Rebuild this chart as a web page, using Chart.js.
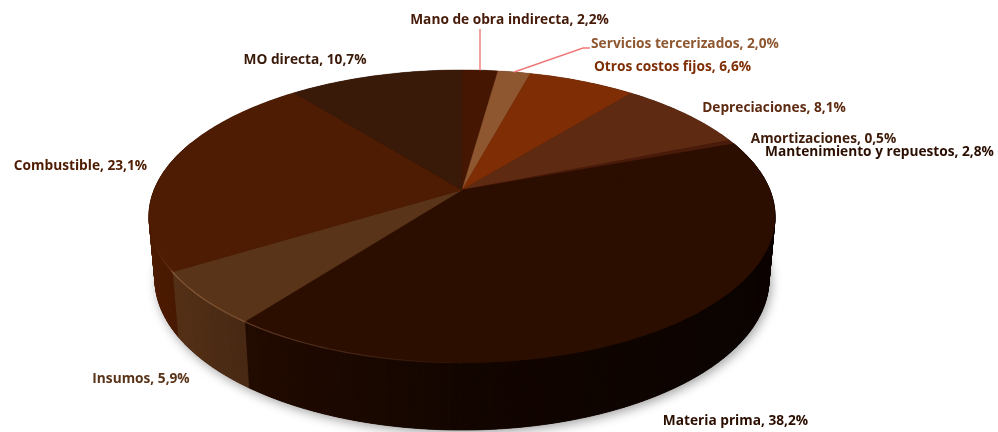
<!DOCTYPE html>
<html><head><meta charset="utf-8">
<style>html,body{margin:0;padding:0;background:#fff}canvas{display:block}</style>
<script src="https://cdn.jsdelivr.net/npm/chart.js@4"></script></head>
<body><canvas id="c" width="998" height="432"></canvas>
<script>
const categories = ["Mano de obra indirecta","Servicios tercerizados","Otros costos fijos","Depreciaciones","Amortizaciones","Mantenimiento y repuestos","Materia prima","Insumos","Combustible","MO directa"];
const shares = [2.2,2.0,6.6,8.1,0.5,2.8,38.2,5.9,23.1,10.7];
const tickText = ["2,2%","2,0%","6,6%","8,1%","0,5%","2,8%","38,2%","5,9%","23,1%","10,7%"];
const sliceColors = ["#451602","#8f5730","#7e2d05","#5e2a11","#4a1a0a","#2b0e00","#2b0e00","#5a3419","#4e1c02","#391a09"];
const labelColors = ["#451a08","#8f5730","#7e2d05","#5e2a11","#3f1c0a","#2a0e00","#2b0e00","#5a3419","#4e1c02","#391a09"];

const layoutCfg = {
  k:0.18,
  top:{ax:462,ay:190,A:307.9,B:141.7},
  bottom:{ax:462,ay:252,A:302,B:146},
  labelCenters:[[509.5,20],[685,44],[672.5,67],[774,108],[823.5,139],[879.5,152],[735.5,421],[141,379],[80.5,166],[305,60]],
  font:'bold 13.7px "Open Sans"',
  leader:{color:"#f07878",width:1.4},
  leaderEnds:{0:[[480,29]],1:[[583,48],[590,48]]}
};
function proj(p,a){
  const x=Math.cos(a),y=Math.sin(a),w=1-layoutCfg.k*y;
  return [p.ax+p.A*x/w,p.ay+p.B*y/w];
}
function scaleColor(hex,f){
  const n=parseInt(hex.slice(1),16);
  return `rgb(${((n>>16)&255)*f|0},${((n>>8)&255)*f|0},${(n&255)*f|0})`;
}
function sideShade(x){
  const s=[[150,1.0],[210,0.88],[250,0.8],[460,0.45],[700,0.3],[780,0.28]];
  for(let i=1;i<s.length;i++){ if(x<=s[i][0]){const t=Math.max(0,(x-s[i-1][0])/(s[i][0]-s[i-1][0]));return s[i-1][1]+t*(s[i][1]-s[i-1][1]);}}
  return 0.28;
}
const pie3d={
  id:'pie3d',
  beforeDatasetsDraw(chart){
    const ctx=chart.ctx, arcs=chart.getDatasetMeta(0).data, {top,bottom}=layoutCfg;
    ctx.save();
    // soft shadow under the disc
    ctx.save();
    ctx.shadowColor='rgba(0,0,0,0.38)';ctx.shadowBlur=11;ctx.shadowOffsetX=2;ctx.shadowOffsetY=3;
    ctx.fillStyle='#1a0700';ctx.beginPath();
    for(let i=0;i<=360;i++){const p=proj(bottom,i*Math.PI/180);i?ctx.lineTo(p[0],p[1]):ctx.moveTo(p[0],p[1]);}
    ctx.closePath();ctx.fill();ctx.restore();
    // side wall
    arcs.forEach((arc,idx)=>{
      const n=Math.max(2,Math.ceil((arc.endAngle-arc.startAngle)*180/Math.PI*2));
      for(let i=0;i<n;i++){
        const a0=arc.startAngle+(arc.endAngle-arc.startAngle)*i/n,a1=arc.startAngle+(arc.endAngle-arc.startAngle)*(i+1)/n;
        if(Math.sin((a0+a1)/2)<-0.35) continue;
        const t0=proj(top,a0),t1=proj(top,a1),b0=proj(bottom,a0),b1=proj(bottom,a1);
        const col=scaleColor(sliceColors[idx],sideShade((t0[0]+t1[0])/2));
        ctx.fillStyle=col;ctx.strokeStyle=col;ctx.lineWidth=0.7;
        ctx.beginPath();ctx.moveTo(t0[0],t0[1]);ctx.lineTo(t1[0],t1[1]);ctx.lineTo(b1[0],b1[1]);ctx.lineTo(b0[0],b0[1]);ctx.closePath();ctx.fill();ctx.stroke();
      }
    });
    // base of the top face, so slice seams do not show the wall through
    ctx.fillStyle='#2b0e00';ctx.beginPath();
    for(let i=0;i<=360;i++){const p=proj(top,i*Math.PI/180);i?ctx.lineTo(p[0],p[1]):ctx.moveTo(p[0],p[1]);}
    ctx.closePath();ctx.fill();
    // top face
    arcs.forEach((arc,idx)=>{
      ctx.fillStyle=sliceColors[idx];ctx.strokeStyle=sliceColors[idx];ctx.lineWidth=0.4;
      ctx.beginPath();ctx.moveTo(top.ax,top.ay);
      const n=Math.max(2,Math.ceil((arc.endAngle-arc.startAngle)*180/Math.PI*2));
      for(let i=0;i<=n;i++){const p=proj(top,arc.startAngle+(arc.endAngle-arc.startAngle)*i/n);ctx.lineTo(p[0],p[1]);}
      ctx.closePath();ctx.fill();ctx.stroke();
    });
    // bevel highlight along the front-left rim
    ctx.lineWidth=1.2;
    for(let d=90;d<=172;d+=1){
      const a0=d*Math.PI/180,a1=(d+1)*Math.PI/180,p0=proj(top,a0),p1=proj(top,a1);
      const fade=p0[0]<173?Math.max(0,(p0[0]-150)/23)*0.5:1;
      const al=Math.max(0,(500-p0[0])/300)*0.3*fade;
      ctx.strokeStyle=`rgba(255,190,140,${al})`;
      ctx.beginPath();ctx.moveTo(p0[0],p0[1]);ctx.lineTo(p1[0],p1[1]);ctx.stroke();
    }
    // leader lines
    ctx.strokeStyle=layoutCfg.leader.color;ctx.lineWidth=layoutCfg.leader.width;
    Object.keys(layoutCfg.leaderEnds).forEach(k=>{
      const arc=arcs[k],p=proj(top,(arc.startAngle+arc.endAngle)/2);
      ctx.beginPath();ctx.moveTo(p[0],p[1]);
      layoutCfg.leaderEnds[k].forEach(q=>ctx.lineTo(q[0],q[1]));ctx.stroke();
    });
    // data labels
    ctx.font=layoutCfg.font;ctx.textAlign='center';ctx.textBaseline='middle';
    categories.forEach((c,i)=>{
      ctx.fillStyle=labelColors[i];
      ctx.fillText(c+", "+tickText[i],layoutCfg.labelCenters[i][0],layoutCfg.labelCenters[i][1]);
    });
    ctx.restore();
    return false;
  }
};
new Chart(document.getElementById('c'),{
  type:'pie',
  data:{labels:categories,datasets:[{data:shares,backgroundColor:sliceColors,borderWidth:0}]},
  options:{responsive:false,animation:false,rotation:0,
    layout:{padding:0},
    plugins:{legend:{display:false},tooltip:{enabled:false}}},
  plugins:[pie3d]
});
</script></body></html>
